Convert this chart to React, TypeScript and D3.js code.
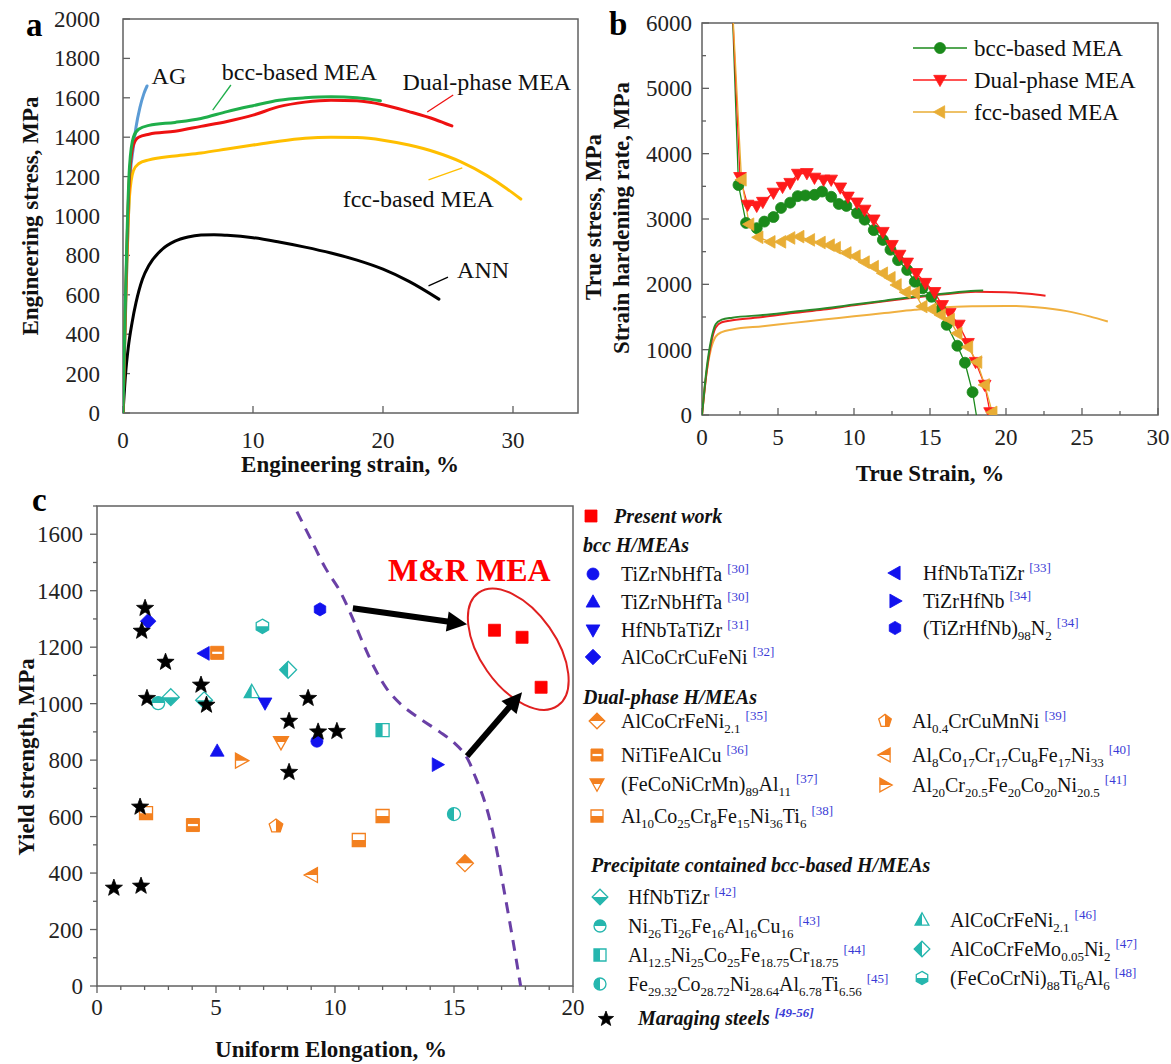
import React from 'react';
import * as d3 from 'd3';

type P = [number, number];

// ---------------- Panel a: engineering stress-strain ----------------
const aTicksX = [0, 10, 20, 30];
const aTicksY = [0, 200, 400, 600, 800, 1000, 1200, 1400, 1600, 1800, 2000];
const aAG: P[] = [[0, 0], [0.55, 1200], [0.8, 1350], [1.0, 1450], [1.3, 1550], [1.6, 1620], [1.85, 1660]];
const aBcc: P[] = [[0, 0], [0.5, 1250], [0.8, 1400], [1.2, 1440], [2, 1460], [4, 1475], [6, 1495], [8, 1530], [10, 1560], [12, 1588], [14, 1600], [16, 1605], [18, 1600], [19.8, 1585]];
const aDual: P[] = [[0, 0], [0.5, 1200], [0.8, 1360], [1.2, 1400], [2, 1415], [4, 1430], [6, 1455], [8, 1480], [10, 1512], [12, 1555], [14, 1578], [16, 1588], [18, 1585], [20, 1565], [22, 1530], [24, 1490], [25.3, 1457]];
const aFcc: P[] = [[0, 0], [0.5, 1100], [0.8, 1230], [1.2, 1265], [2, 1285], [4, 1305], [6, 1320], [8, 1340], [10, 1360], [12, 1380], [14, 1395], [16, 1400], [18, 1398], [20, 1385], [22, 1360], [24, 1325], [26, 1275], [28, 1205], [29.5, 1140], [30.6, 1086]];
const aAnn: P[] = [[0, 0], [0.2, 200], [0.4, 330], [0.7, 460], [1, 560], [1.5, 680], [2, 750], [3, 830], [4, 872], [5, 893], [6, 903], [7, 905], [8, 902], [10, 890], [12, 868], [14, 842], [16, 812], [18, 776], [20, 730], [22, 668], [24.3, 578]];
const aLabelText = ['AG', 'bcc-based MEA', 'Dual-phase MEA', 'fcc-based MEA', 'ANN'];
const aLabelAt: P[] = [[2.2, 1711], [7.6, 1731], [21.5, 1680], [16.9, 1086], [25.7, 726]];
const aLeaders: [P, P][] = [[[6.9, 1538], [8.3, 1665]], [[23.4, 1528], [25.4, 1614]], [[23.5, 1183], [26.1, 1244]], [[23.5, 645], [25.0, 690]]];

// ---------------- Panel b: true stress & strain hardening ----------------
const bTicksX = [0, 5, 10, 15, 20, 25, 30];
const bTicksY = [0, 1000, 2000, 3000, 4000, 5000, 6000];
const bNames = ['bcc-based MEA', 'Dual-phase MEA', 'fcc-based MEA'];
const bStressBcc: P[] = [[0, 0], [0.3, 700], [0.6, 1150], [0.9, 1390], [1.3, 1460], [2, 1490], [4, 1530], [6, 1580], [8, 1630], [10, 1690], [12, 1750], [14, 1810], [16, 1860], [18, 1900], [18.5, 1905]];
const bStressDual: P[] = [[0, 0], [0.3, 650], [0.6, 1100], [0.9, 1340], [1.3, 1420], [2, 1450], [4, 1500], [6, 1560], [8, 1615], [10, 1680], [12, 1740], [14, 1800], [16, 1850], [18, 1885], [20, 1880], [21.5, 1855], [22.6, 1825]];
const bStressFcc: P[] = [[0, 0], [0.3, 650], [0.6, 1020], [0.9, 1200], [1.3, 1270], [2, 1310], [4, 1360], [6, 1410], [8, 1460], [10, 1510], [12, 1560], [14, 1610], [16, 1650], [18, 1665], [20, 1670], [22, 1650], [24, 1590], [25.5, 1510], [26.7, 1430]];
const bRateBcc: P[] = [[1.95, 6500], [2.4, 3520], [2.9, 2940], [3.6, 2860], [4.1, 2960], [4.7, 3030], [5.2, 3170], [5.8, 3250], [6.3, 3350], [6.8, 3360], [7.4, 3370], [7.9, 3420], [8.5, 3340], [9.0, 3230], [9.5, 3200], [10.2, 3090], [10.7, 2990], [11.3, 2830], [11.9, 2680], [12.4, 2530], [12.9, 2370], [13.5, 2220], [14.0, 2040], [14.5, 1940], [15.1, 1810], [15.7, 1610], [16.1, 1380], [16.8, 1060], [17.3, 800], [17.8, 350], [18.05, 0]];
const bRateDual: P[] = [[1.95, 6500], [2.5, 3640], [3.0, 3216], [3.6, 3200], [4.0, 3260], [4.7, 3400], [5.3, 3490], [5.8, 3550], [6.3, 3690], [6.9, 3700], [7.4, 3630], [8.0, 3600], [8.5, 3600], [9.1, 3480], [9.6, 3340], [10.2, 3250], [10.7, 3140], [11.3, 2990], [11.9, 2800], [12.5, 2600], [13.0, 2450], [13.5, 2330], [14.1, 2170], [14.7, 2020], [15.3, 1880], [15.8, 1680], [16.3, 1560], [16.9, 1380], [17.5, 1100], [18.0, 810], [18.6, 460], [18.95, 40]];
const bRateFcc: P[] = [[1.95, 6500], [2.6, 3600], [3.1, 2920], [3.7, 2720], [4.5, 2650], [5.2, 2650], [5.8, 2710], [6.4, 2730], [7.1, 2680], [7.8, 2640], [8.4, 2600], [8.8, 2560], [9.5, 2480], [10.1, 2430], [10.7, 2340], [11.3, 2270], [11.9, 2170], [12.4, 2100], [12.8, 1990], [13.4, 1880], [14.0, 1870], [14.5, 1660], [15.1, 1620], [15.7, 1530], [16.3, 1460], [16.8, 1250], [17.5, 1040], [18.1, 810], [18.6, 460], [19.1, 40]];

// ---------------- Panel c: yield strength vs uniform elongation ----------------
const cTicksX = [0, 5, 10, 15, 20];
const cTicksY = [0, 200, 400, 600, 800, 1000, 1200, 1400, 1600];
const cPresent: P[] = [[16.7, 1260], [17.86, 1235], [18.66, 1058]];
const cMaraging: P[] = [[2.02, 1338], [1.88, 1257], [2.88, 1147], [2.1, 1019], [4.37, 1066], [4.6, 995], [8.07, 938], [8.87, 1019], [9.29, 900], [10.08, 902], [8.07, 757], [1.81, 634], [0.71, 347], [1.85, 354]];
const cBcc = [
  { key: 'b30c', label: 'TiZrNbHfTa', cite: '30', pts: [[9.24, 867]] as P[] },
  { key: 'b30t', label: 'TiZrNbHfTa', cite: '30', pts: [[5.05, 832]] as P[] },
  { key: 'b31', label: 'HfNbTaTiZr', cite: '31', pts: [[7.06, 1002]] as P[] },
  { key: 'b32', label: 'AlCoCrCuFeNi', cite: '32', pts: [[2.15, 1292]] as P[] },
  { key: 'b33', label: 'HfNbTaTiZr', cite: '33', pts: [[4.5, 1178]] as P[] },
  { key: 'b34t', label: 'TiZrHfNb', cite: '34', pts: [[14.3, 784]] as P[] },
  { key: 'b34h', label: '(TiZrHfNb)_{98}N_{2}', cite: '34', pts: [[9.37, 1334]] as P[] },
];
const cDual = [
  { key: 'd35', label: 'AlCoCrFeNi_{2.1}', cite: '35', pts: [[15.46, 435]] as P[] },
  { key: 'd36', label: 'NiTiFeAlCu', cite: '36', pts: [[5.05, 1180], [4.03, 570]] as P[] },
  { key: 'd37', label: '(FeCoNiCrMn)_{89}Al_{11}', cite: '37', pts: [[7.73, 864]] as P[] },
  { key: 'd38', label: 'Al_{10}Co_{25}Cr_{8}Fe_{15}Ni_{36}Ti_{6}', cite: '38', pts: [[2.06, 612], [11.0, 517], [12.0, 602]] as P[] },
  { key: 'd39', label: 'Al_{0.4}CrCuMnNi', cite: '39', pts: [[7.52, 566]] as P[] },
  { key: 'd40', label: 'Al_{8}Co_{17}Cr_{17}Cu_{8}Fe_{17}Ni_{33}', cite: '40', pts: [[9.03, 393]] as P[] },
  { key: 'd41', label: 'Al_{20}Cr_{20.5}Fe_{20}Co_{20}Ni_{20.5}', cite: '41', pts: [[6.05, 798]] as P[] },
];
const cPrec = [
  { key: 'p42', label: 'HfNbTiZr', cite: '42', pts: [[3.1, 1023], [4.5, 1012]] as P[] },
  { key: 'p43', label: 'Ni_{26}Ti_{26}Fe_{16}Al_{16}Cu_{16}', cite: '43', pts: [[2.57, 1002]] as P[] },
  { key: 'p44', label: 'Al_{12.5}Ni_{25}Co_{25}Fe_{18.75}Cr_{18.75}', cite: '44', pts: [[12.0, 906]] as P[] },
  { key: 'p45', label: 'Fe_{29.32}Co_{28.72}Ni_{28.64}Al_{6.78}Ti_{6.56}', cite: '45', pts: [[15.0, 609]] as P[] },
  { key: 'p46', label: 'AlCoCrFeNi_{2.1}', cite: '46', pts: [[6.5, 1041]] as P[] },
  { key: 'p47', label: 'AlCoCrFeMo_{0.05}Ni_{2}', cite: '47', pts: [[8.03, 1120]] as P[] },
  { key: 'p48', label: '(FeCoCrNi)_{88}Ti_{6}Al_{6}', cite: '48', pts: [[6.95, 1274]] as P[] },
];
const cBoundary: P[] = [[8.4, 1680], [9.0, 1580], [9.6, 1480], [10.2, 1400], [10.7, 1310], [11.2, 1210], [11.7, 1120], [12.2, 1050], [12.8, 995], [13.6, 945], [14.4, 900], [15.0, 862], [15.5, 815], [15.9, 740], [16.3, 650], [16.7, 520], [17.1, 340], [17.5, 150], [17.8, 0]];
const cArrows: [P, P][] = [[[10.75, 1338], [15.55, 1281]], [[15.55, 814], [17.86, 1040]]];
const cEllipseCenter: P = [17.7, 1193];

// ---------------- styles ----------------
const FONT = '"Liberation Serif", "Times New Roman", serif';
const BLUE = '#1212ee';
const ORANGE = '#f3801f';
const CYAN = '#25b6ae';
const REF = '#3a3ad6';
const markerStyle: Record<string, { shape: string; fill: string }> = {
  b30c: { shape: 'circle', fill: 'full' }, b30t: { shape: 'triUp', fill: 'full' }, b31: { shape: 'triDown', fill: 'full' },
  b32: { shape: 'diamond', fill: 'full' }, b33: { shape: 'triLeft', fill: 'full' }, b34t: { shape: 'triRight', fill: 'full' },
  b34h: { shape: 'hexagon', fill: 'full' },
  d35: { shape: 'diamond', fill: 'top' }, d36: { shape: 'square', fill: 'stripe' }, d37: { shape: 'triDown', fill: 'top' },
  d38: { shape: 'square', fill: 'bottom' }, d39: { shape: 'pentagon', fill: 'right' }, d40: { shape: 'triLeft', fill: 'top' },
  d41: { shape: 'triRight', fill: 'top' },
  p42: { shape: 'diamond', fill: 'bottom' }, p43: { shape: 'circle', fill: 'top' }, p44: { shape: 'square', fill: 'left' },
  p45: { shape: 'circle', fill: 'left' }, p46: { shape: 'triUp', fill: 'left' }, p47: { shape: 'diamond', fill: 'left' },
  p48: { shape: 'hexagon', fill: 'bottom' },
};

function shapePath(shape: string, r: number): string {
  const poly = (pts: P[]) => 'M' + pts.map((p) => `${p[0].toFixed(2)},${p[1].toFixed(2)}`).join('L') + 'Z';
  const reg = (n: number, rr: number, a0: number) => d3.range(n).map((i) => [rr * Math.cos(a0 + (i * 2 * Math.PI) / n), rr * Math.sin(a0 + (i * 2 * Math.PI) / n)] as P);
  switch (shape) {
    case 'circle': return `M${r},0A${r},${r} 0 1,1 ${-r},0A${r},${r} 0 1,1 ${r},0Z`;
    case 'square': return poly([[-r, -r], [r, -r], [r, r], [-r, r]]);
    case 'diamond': { const d = r * 1.3; return poly([[0, -d], [d, 0], [0, d], [-d, 0]]); }
    case 'triUp': return poly([[0, -r * 1.2], [r * 1.15, r * 0.85], [-r * 1.15, r * 0.85]]);
    case 'triDown': return poly([[0, r * 1.2], [r * 1.15, -r * 0.85], [-r * 1.15, -r * 0.85]]);
    case 'triLeft': return poly([[-r * 1.2, 0], [r * 0.85, -r * 1.15], [r * 0.85, r * 1.15]]);
    case 'triRight': return poly([[r * 1.2, 0], [-r * 0.85, -r * 1.15], [-r * 0.85, r * 1.15]]);
    case 'pentagon': return poly(reg(5, r * 1.1, -Math.PI / 2));
    case 'hexagon': return poly(reg(6, r * 1.1, -Math.PI / 2));
    case 'star': {
      const pts: P[] = d3.range(10).map((i) => {
        const rr = i % 2 === 0 ? r : r * 0.42;
        const a = -Math.PI / 2 + (i * Math.PI) / 5;
        return [rr * Math.cos(a), rr * Math.sin(a)];
      });
      return poly(pts);
    }
    default: return poly([[-r, -r], [r, -r], [r, r], [-r, r]]);
  }
}

function Marker({ x, y, shape, fill, color, r }: { x: number; y: number; shape: string; fill: string; color: string; r: number }) {
  const d = shapePath(shape, r);
  if (fill === 'full') {
    return <path transform={`translate(${x},${y})`} d={d} fill={color} stroke={color} strokeWidth={0.8} />;
  }
  if (fill === 'stripe') {
    return (
      <g transform={`translate(${x},${y})`}>
        <path d={d} fill={color} stroke={color} strokeWidth={1} />
        <line x1={-r + 1.5} x2={r - 1.5} y1={0} y2={0} stroke="#fff" strokeWidth={2.2} />
      </g>
    );
  }
  return (
    <g transform={`translate(${x},${y})`}>
      <path d={d} fill="#fff" stroke={color} strokeWidth={1.3} />
      <path d={d} fill={color} stroke="none" clipPath={`url(#half-${fill})`} />
    </g>
  );
}

function Rich({ x, y, label, cite, size = 20, bold = false, italic = false, citeBold = false }: { x: number; y: number; label: string; cite?: string; size?: number; bold?: boolean; italic?: boolean; citeBold?: boolean }) {
  const parts = label.split(/(_\{[^}]*\})/).filter((s) => s.length > 0);
  const spans: React.ReactNode[] = [];
  let shift = 0;
  const sub = Math.round(size * 0.25);
  parts.forEach((p, i) => {
    if (p.startsWith('_{')) {
      spans.push(<tspan key={i} fontSize={size * 0.65} dy={sub - shift}>{p.slice(2, -1)}</tspan>);
      shift = sub;
    } else {
      spans.push(<tspan key={i} dy={-shift}>{p}</tspan>);
      shift = 0;
    }
  });
  if (cite) {
    spans.push(
      <tspan key="c" fontSize={size * 0.65} fill={REF} dx={5} dy={-size * 0.42 - shift} fontWeight={citeBold ? 'bold' : 'normal'}>[{cite}]</tspan>
    );
  }
  return (
    <text x={x} y={y} fontSize={size} fontFamily={FONT} fontWeight={bold ? 'bold' : 'normal'} fontStyle={italic ? 'italic' : 'normal'} fill="#111">
      {spans}
    </text>
  );
}

function Arrow({ p0, p1 }: { p0: P; p1: P }) {
  const dx = p1[0] - p0[0];
  const dy = p1[1] - p0[1];
  const L = Math.hypot(dx, dy);
  const ux = dx / L, uy = dy / L;
  const hl = 20, hw = 10;
  const bx = p1[0] - ux * hl, by = p1[1] - uy * hl;
  const head: P[] = [p1, [bx - uy * hw, by + ux * hw], [bx + uy * hw, by - ux * hw]];
  return (
    <g>
      <line x1={p0[0]} y1={p0[1]} x2={bx + ux * 2} y2={by + uy * 2} stroke="#000" strokeWidth={6} />
      <path d={'M' + head.map((p) => p.join(',')).join('L') + 'Z'} fill="#000" />
    </g>
  );
}

export default function App() {
  const ax = d3.scaleLinear().domain([0, 35]).range([123, 578]);
  const ay = d3.scaleLinear().domain([0, 2000]).range([413, 19]);
  const bx = d3.scaleLinear().domain([0, 30]).range([702, 1158]);
  const by = d3.scaleLinear().domain([0, 6000]).range([415, 23]);
  const cx = d3.scaleLinear().domain([0, 20]).range([97, 573]);
  const cy = d3.scaleLinear().domain([0, 1700]).range([986, 506]);

  const lineA = d3.line<P>().x((d) => ax(d[0])).y((d) => ay(d[1])).curve(d3.curveMonotoneX);
  const lineB = d3.line<P>().x((d) => bx(d[0])).y((d) => by(d[1])).curve(d3.curveMonotoneX);
  const lineBLin = d3.line<P>().x((d) => bx(d[0])).y((d) => by(d[1]));
  const lineC = d3.line<P>().x((d) => cx(d[0])).y((d) => cy(d[1])).curve(d3.curveCatmullRom);

  const frame = '#606060';
  const tickFont = 23;

  const aSeries = [
    { pts: aAG, color: '#5b9bd5' },
    { pts: aAnn, color: '#000000' },
    { pts: aFcc, color: '#ffbf00' },
    { pts: aDual, color: '#ee1111' },
    { pts: aBcc, color: '#1fae4a' },
  ];
  const bColors = ['#1b8a1b', '#ff1a1a', '#e8ad35'];
  const bShapes = ['circle', 'triDown', 'triLeft'];
  const bStress = [bStressFcc, bStressDual, bStressBcc];
  const bStressColors = ['#f0b040', '#ee2020', '#2a8a2a'];
  const bRates = [bRateBcc, bRateDual, bRateFcc];

  const legendRow = (entry: { key: string; label: string; cite: string }, mx: number, tx: number, yc: number, color: string) => (
    <g key={entry.key + 'lg'}>
      <Marker x={mx} y={yc} shape={markerStyle[entry.key].shape} fill={markerStyle[entry.key].fill} color={color} r={6} />
      <Rich x={tx} y={yc + 7} label={entry.label} cite={entry.cite} />
    </g>
  );

  const bccLayout: [number, number, number][] = [[593, 621, 574], [593, 621, 602], [593, 621, 630], [593, 621, 657], [895, 923, 573], [895, 923, 601], [895, 923, 628]];
  const dualLayout: [number, number, number][] = [[597, 621, 721], [597, 621, 755], [597, 621, 784], [597, 621, 816], [885, 912, 721], [885, 912, 755], [885, 912, 785]];
  const precLayout: [number, number, number][] = [[600, 628, 897], [600, 628, 926], [600, 628, 955], [600, 628, 984], [922, 950, 920], [922, 950, 949], [922, 950, 978]];

  const ec: P = [cx(cEllipseCenter[0]), cy(cEllipseCenter[1])];

  return (
    <svg width={1171} height={1064} viewBox="0 0 1171 1064" style={{ position: 'absolute', left: 0, top: 0, background: '#fff' }} fontFamily={FONT}>
      <defs>
        <clipPath id="half-top"><rect x={-30} y={-30} width={60} height={30} /></clipPath>
        <clipPath id="half-bottom"><rect x={-30} y={0} width={60} height={30} /></clipPath>
        <clipPath id="half-left"><rect x={-30} y={-30} width={30} height={60} /></clipPath>
        <clipPath id="half-right"><rect x={0} y={-30} width={30} height={60} /></clipPath>
        <clipPath id="clipA"><rect x={123} y={19} width={455} height={394} /></clipPath>
        <clipPath id="clipB"><rect x={702} y={23} width={456} height={392} /></clipPath>
      </defs>
      <rect x={0} y={0} width={1171} height={1064} fill="#fff" />

      {/* ===== Panel a ===== */}
      <text x={26} y={36} fontSize={33} fontWeight="bold">a</text>
      <rect x={123} y={19} width={455} height={394} fill="none" stroke={frame} strokeWidth={1.5} />
      {aTicksX.map((t) => (
        <g key={'ax' + t}>
          <line x1={ax(t)} x2={ax(t)} y1={413} y2={406} stroke={frame} strokeWidth={1.3} />
          <text x={ax(t)} y={448} fontSize={tickFont} textAnchor="middle" fill="#222">{t}</text>
        </g>
      ))}
      {aTicksY.map((t) => (
        <g key={'ay' + t}>
          <line x1={123} x2={130} y1={ay(t)} y2={ay(t)} stroke={frame} strokeWidth={1.3} />
          <text x={100} y={ay(t) + 8} fontSize={tickFont} textAnchor="end" fill="#222">{t}</text>
        </g>
      ))}
      <text x={350} y={472} fontSize={23} fontWeight="bold" textAnchor="middle" fill="#111">Engineering strain, %</text>
      <text transform="translate(38,216) rotate(-90)" fontSize={23} fontWeight="bold" textAnchor="middle" fill="#111">Engineering stress, MPa</text>
      <g clipPath="url(#clipA)">
        {aSeries.map((s, i) => (
          <path key={'as' + i} d={lineA(s.pts) || ''} fill="none" stroke={s.color} strokeWidth={3} strokeLinejoin="round" strokeLinecap="round" />
        ))}
      </g>
      {aLeaders.map((l, i) => (
        <line key={'al' + i} x1={ax(l[0][0])} y1={ay(l[0][1])} x2={ax(l[1][0])} y2={ay(l[1][1])} stroke={['#1fae4a', '#ee1111', '#ffbf00', '#000'][i]} strokeWidth={1.3} />
      ))}
      {aLabelText.map((t, i) => (
        <text key={'at' + i} x={ax(aLabelAt[i][0])} y={ay(aLabelAt[i][1]) + 8} fontSize={24} fill="#111">{t}</text>
      ))}

      {/* ===== Panel b ===== */}
      <text x={609} y={35} fontSize={33} fontWeight="bold">b</text>
      <rect x={702} y={23} width={456} height={392} fill="none" stroke={frame} strokeWidth={1.5} />
      {d3.range(0, 30.01, 2.5).map((t) => (
        <line key={'bxm' + t} x1={bx(t)} x2={bx(t)} y1={415} y2={t % 5 === 0 ? 408 : 411} stroke={frame} strokeWidth={1.3} />
      ))}
      {bTicksX.map((t) => (
        <text key={'bx' + t} x={bx(t)} y={445} fontSize={tickFont} textAnchor="middle" fill="#222">{t}</text>
      ))}
      {d3.range(0, 6001, 500).map((t) => (
        <line key={'bym' + t} x1={702} x2={t % 1000 === 0 ? 709 : 706} y1={by(t)} y2={by(t)} stroke={frame} strokeWidth={1.3} />
      ))}
      {bTicksY.map((t) => (
        <text key={'by' + t} x={692} y={by(t) + 8} fontSize={tickFont} textAnchor="end" fill="#222">{t}</text>
      ))}
      <text x={930} y={481} fontSize={23} fontWeight="bold" textAnchor="middle" fill="#111">True Strain, %</text>
      <text transform="translate(601,217) rotate(-90)" fontSize={23} fontWeight="bold" textAnchor="middle" fill="#111">True stress, MPa</text>
      <text transform="translate(629,218) rotate(-90)" fontSize={23} fontWeight="bold" textAnchor="middle" fill="#111">Strain hardening rate, MPa</text>
      <g clipPath="url(#clipB)">
        {bStress.map((s, i) => (
          <path key={'bs' + i} d={lineB(s) || ''} fill="none" stroke={bStressColors[i]} strokeWidth={2} />
        ))}
        {bRates.map((s, i) => (
          <path key={'br' + i} d={lineBLin(s) || ''} fill="none" stroke={bColors[i]} strokeWidth={1.3} />
        ))}
        {bRates.map((s, i) =>
          (i === 0 ? s.slice(1, -1) : s.slice(1)).map((p, j) => (
            <Marker key={'bm' + i + '-' + j} x={bx(p[0])} y={by(p[1])} shape={bShapes[i]} fill="full" color={bColors[i]} r={5.5} />
          ))
        )}
      </g>
      {bNames.map((n, i) => (
        <g key={'bl' + i}>
          <line x1={913} x2={967} y1={48 + i * 32} y2={48 + i * 32} stroke={bColors[i]} strokeWidth={1.3} />
          <Marker x={940} y={48 + i * 32} shape={bShapes[i]} fill="full" color={bColors[i]} r={5.5} />
          <text x={974} y={48 + i * 32 + 8} fontSize={23} fill="#111">{n}</text>
        </g>
      ))}

      {/* ===== Panel c ===== */}
      <text x={32} y={511} fontSize={33} fontWeight="bold">c</text>
      <rect x={97} y={506} width={476} height={480} fill="none" stroke={frame} strokeWidth={1.5} />
      {d3.range(0, 20.01, 1).map((t) => (
        <line key={'cxm' + t} x1={cx(t)} x2={cx(t)} y1={986} y2={t % 5 === 0 ? 993 : 990} stroke={frame} strokeWidth={1.3} />
      ))}
      {cTicksX.map((t) => (
        <text key={'cx' + t} x={cx(t)} y={1015} fontSize={tickFont} textAnchor="middle" fill="#222">{t}</text>
      ))}
      {d3.range(0, 1701, 100).map((t) => (
        <line key={'cym' + t} x1={97} x2={t % 200 === 0 ? 90 : 93} y1={cy(t)} y2={cy(t)} stroke={frame} strokeWidth={1.3} />
      ))}
      {cTicksY.map((t) => (
        <text key={'cy' + t} x={83} y={cy(t) + 8} fontSize={tickFont} textAnchor="end" fill="#222">{t}</text>
      ))}
      <text x={331} y={1057} fontSize={23} fontWeight="bold" textAnchor="middle" fill="#111">Uniform Elongation, %</text>
      <text transform="translate(34,757) rotate(-90)" fontSize={23} fontWeight="bold" textAnchor="middle" fill="#111">Yield strength, MPa</text>

      <path d={lineC(cBoundary) || ''} fill="none" stroke="#6a40a6" strokeWidth={3} strokeDasharray="11,8" />
      {cDual.map((s) => s.pts.map((p, j) => (
        <Marker key={s.key + j} x={cx(p[0])} y={cy(p[1])} shape={markerStyle[s.key].shape} fill={markerStyle[s.key].fill} color={ORANGE} r={6.5} />
      )))}
      {cPrec.map((s) => s.pts.map((p, j) => (
        <Marker key={s.key + j} x={cx(p[0])} y={cy(p[1])} shape={markerStyle[s.key].shape} fill={markerStyle[s.key].fill} color={CYAN} r={6.5} />
      )))}
      {cBcc.map((s) => s.pts.map((p, j) => (
        <Marker key={s.key + j} x={cx(p[0])} y={cy(p[1])} shape={markerStyle[s.key].shape} fill={markerStyle[s.key].fill} color={BLUE} r={6} />
      )))}
      {cMaraging.map((p, j) => (
        <Marker key={'ms' + j} x={cx(p[0])} y={cy(p[1])} shape="star" fill="full" color="#000" r={9} />
      ))}
      {cPresent.map((p, j) => (
        <Marker key={'pw' + j} x={cx(p[0])} y={cy(p[1])} shape="square" fill="full" color="#ff0000" r={6} />
      ))}
      <ellipse cx={0} cy={0} rx={69} ry={38} transform={`translate(${ec[0]},${ec[1]}) rotate(55)`} fill="none" stroke="#e02020" strokeWidth={2} />
      {cArrows.map((a, i) => (
        <Arrow key={'arr' + i} p0={[cx(a[0][0]), cy(a[0][1])]} p1={[cx(a[1][0]), cy(a[1][1])]} />
      ))}
      <text x={388} y={581} fontSize={32} fontWeight="bold" fill="#ff0000">M&amp;R MEA</text>

      {/* ===== Panel c legend ===== */}
      <Marker x={591} y={516} shape="square" fill="full" color="#ff0000" r={6} />
      <Rich x={614} y={523} label="Present work" bold italic />
      <Rich x={583} y={552} label="bcc H/MEAs" bold italic />
      {cBcc.map((e, i) => legendRow(e, bccLayout[i][0], bccLayout[i][1], bccLayout[i][2], BLUE))}
      <Rich x={583} y={704} label="Dual-phase H/MEAs" bold italic />
      {cDual.map((e, i) => legendRow(e, dualLayout[i][0], dualLayout[i][1], dualLayout[i][2], ORANGE))}
      <Rich x={591} y={872} label="Precipitate contained bcc-based H/MEAs" bold italic />
      {cPrec.map((e, i) => legendRow(e, precLayout[i][0], precLayout[i][1], precLayout[i][2], CYAN))}
      <Marker x={606} y={1019} shape="star" fill="full" color="#000" r={8} />
      <Rich x={638} y={1025} label="Maraging steels" cite="49-56" bold italic citeBold />
    </svg>
  );
}
